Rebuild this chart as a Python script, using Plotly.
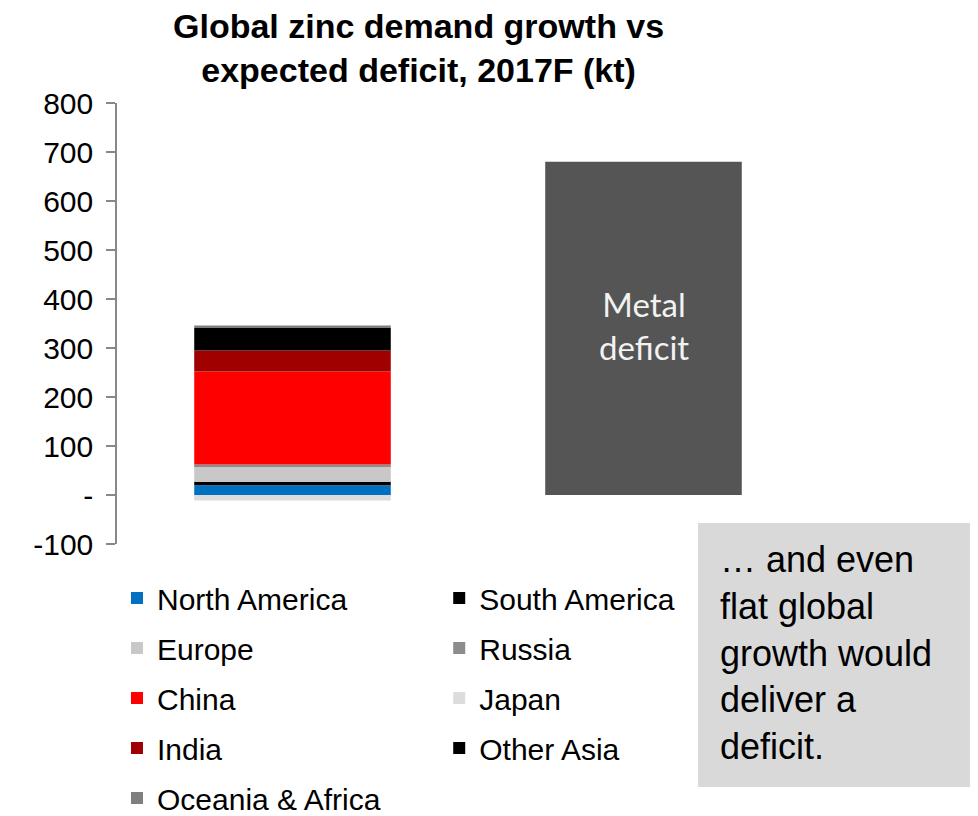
import plotly.graph_objects as go

categories = ["Demand growth", "Metal deficit"]
regions = ["North America", "South America", "Europe", "Russia", "China",
           "Japan", "India", "Other Asia", "Oceania & Africa"]
region_values = [20, 7, 32, 3, 190, -11, 43, 46, 5]
region_colors = ["#0070C0", "#000000", "#C8C8C8", "#8C8C8C", "#FF0000",
                 "#DCDCDC", "#A00000", "#000000", "#7F7F7F"]
deficit_value = 680
deficit_label = "Metal<br>deficit"
deficit_label_y = 345
tick_vals = [-100, 0, 100, 200, 300, 400, 500, 600, 700, 800]
tick_text = ["-100", "-", "100", "200", "300", "400", "500", "600", "700", "800"]
title_text = "<b>Global zinc demand growth vs<br>expected deficit, 2017F (kt)</b>"
box_text = "… and even<br>flat global<br>growth would<br>deliver a<br>deficit."

FONT = "Liberation Sans, Arial, sans-serif"

# left legend column / right legend column (row-major reading as in reference)
left_col = {"North America", "Europe", "China", "India", "Oceania & Africa"}

fig = go.Figure()
for name, val, col in zip(regions, region_values, region_colors):
    fig.add_trace(go.Bar(
        x=[categories[0]], y=[val], name=name,
        marker=dict(color=col, line=dict(width=0)),
        legend="legend" if name in left_col else "legend2",
        legendgroup=name,
    ))

fig.add_trace(go.Bar(
    x=[categories[1]], y=[deficit_value], name="Metal deficit",
    marker=dict(color="#555555", line=dict(width=0)),
    showlegend=False,
))

legend_common = dict(
    font=dict(family=FONT, size=30, color="#000000"),
    orientation="v", yanchor="top", xanchor="left",
    tracegroupgap=8, bgcolor="rgba(0,0,0,0)",
    itemclick=False, itemdoubleclick=False,
)

fig.update_layout(
    width=970, height=808,
    margin=dict(l=109, r=159, t=95, b=272, autoexpand=False),
    paper_bgcolor="white", plot_bgcolor="white",
    barmode="relative", bargap=0.44,
    xaxis=dict(showticklabels=False, showline=False, showgrid=False, zeroline=False,
               ticks="", range=[-0.5, 1.5]),
    yaxis=dict(range=[-100, 800], tickvals=tick_vals, ticktext=tick_text,
               showgrid=False, zeroline=False, showline=True, linecolor="#888888",
               linewidth=1.5, ticks="outside", ticklen=9, tickcolor="#888888",
               tickwidth=1.5, ticklabelstandoff=7,
               tickfont=dict(family=FONT, size=30, color="#000000")),
    legend=dict(x=0.0, y=-0.0635, **legend_common),
    legend2=dict(x=0.459, y=-0.0635, **legend_common),
    showlegend=True,
)

# label inside deficit bar
fig.add_annotation(x=categories[1], y=deficit_label_y, xref="x", yref="y",
                   showarrow=False, text=deficit_label, align="center",
                   font=dict(family="Lato, Open Sans, sans-serif", size=33, color="#F2F2F2"))

# title as paper annotation
fig.add_annotation(xref="paper", yref="paper", x=0.43, y=1.027,
                   xanchor="center", yanchor="bottom", showarrow=False,
                   text=title_text,
                   font=dict(family=FONT, size=34, color="#000000"))

# grey call-out box
fig.add_shape(type="rect", xref="paper", yref="paper",
              x0=0.8276, x1=1.2265, y0=0.0476, y1=-0.551,
              fillcolor="#D9D9D9", line=dict(width=0), layer="above")
fig.add_annotation(xref="paper", yref="paper", x=0.856, y=0.017,
                   xanchor="left", yanchor="top", align="left", showarrow=False,
                   text=box_text,
                   font=dict(family=FONT, size=36, color="#000000"))

fig.write_html("out.html")
